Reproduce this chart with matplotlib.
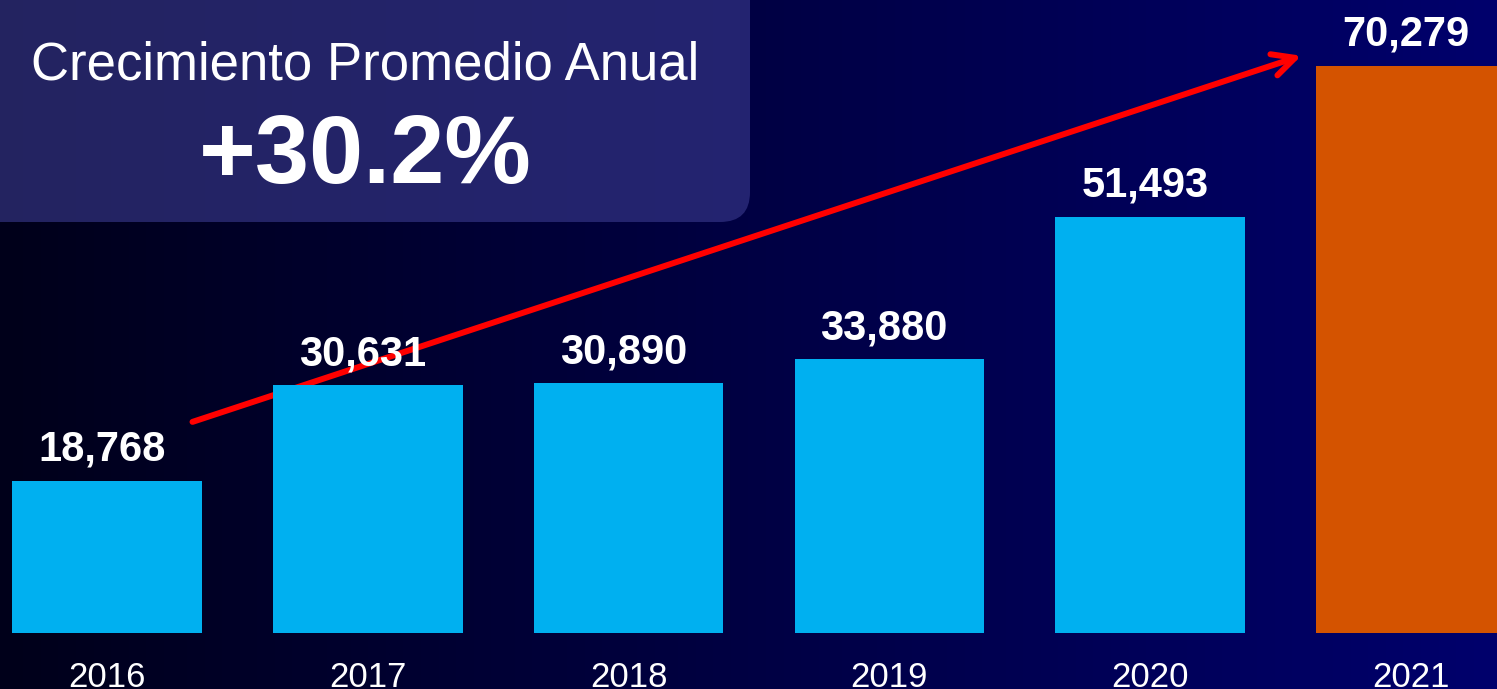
import numpy as np
import matplotlib.pyplot as plt
from matplotlib.patches import FancyBboxPatch
from matplotlib.colors import LinearSegmentedColormap

years = ['2016', '2017', '2018', '2019', '2020', '2021']
values = [18768, 30631, 30890, 33880, 51493, 70279]
bar_colors = ['#00B0F0'] * 5 + ['#D45300']

title = 'Crecimiento Promedio Anual'
growth = '+30.2%'

plt.rcParams['font.family'] = ['Liberation Sans', 'DejaVu Sans']

W, H = 1497, 689
fig = plt.figure(figsize=(W / 100, H / 100), dpi=100)
ax = fig.add_axes([0, 0, 1, 1])

# background gradient, dark left -> navy right
cmap = LinearSegmentedColormap.from_list('bg', ['#00001a', '#00006c'])
grad = np.linspace(0, 1, 256).reshape(1, -1)
ax.imshow(grad, aspect='auto', cmap=cmap, extent=[-0.41, 5.33, -7000, 78400],
          zorder=0)

x = np.arange(len(years))
bars = ax.bar(x, values, width=0.727, color=bar_colors, zorder=3)

for xi, v in zip(x, values):
    ax.text(xi - 0.02, v + 2500, f'{v:,}', ha='center', va='baseline',
            color='white', fontsize=30, fontweight='bold', zorder=5)

for xi, y in zip(x, years):
    ax.text(xi, -6700, y, ha='center', va='baseline', color='white',
            fontsize=25, zorder=5)

# growth arrow (behind bars)
ax.annotate('', xy=(4.59, 71600), xytext=(0.318, 26000),
            arrowprops=dict(arrowstyle='->,head_length=1.6,head_width=0.8',
                            color='#ff0000', lw=4.3, capstyle='round',
                            joinstyle='round'),
            zorder=2)

# title box (axes coords, rounded corners ~30px)
box = FancyBboxPatch((-0.05, 1 - 222 / H), 0.05 + 750 / W, 0.5,
                     boxstyle='round,pad=0,rounding_size=0.02',
                     mutation_aspect=W / H, transform=ax.transAxes,
                     facecolor='#3c3c90', alpha=0.6, edgecolor='none', zorder=1)
ax.add_patch(box)
ax.text(0.99, 70300, title, ha='center', va='center', color='white',
        fontsize=38, zorder=5)
ax.text(0.99, 58800, growth, ha='center', va='center', color='white',
        fontsize=70, fontweight='bold', zorder=5)

ax.set_xlim(-0.41, 5.33)
ax.set_ylim(-7000, 78400)
ax.axis('off')

fig.savefig('out.png', dpi=100)
